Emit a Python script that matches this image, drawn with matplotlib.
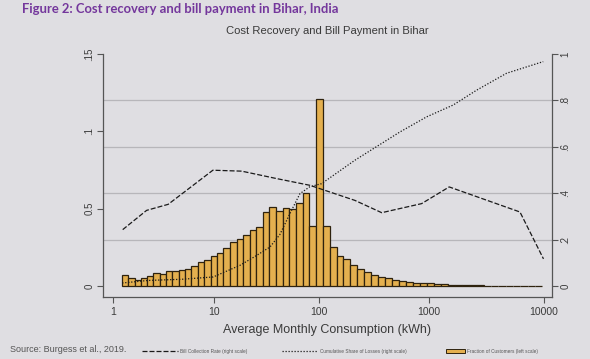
import numpy as np
import matplotlib
matplotlib.use("Agg")
import matplotlib.pyplot as plt
from matplotlib.ticker import FixedLocator
from matplotlib.lines import Line2D
from matplotlib.patches import Patch

# histogram: fraction of customers per log-bin (left scale)
bin_start = 1.235        # kWh, left edge of first bin
bin_log_width = 0.0628   # width of each bin in log10 units
fraction = [0.0070, 0.0051, 0.0040, 0.0051, 0.0066, 0.0083, 0.0076, 0.0096, 0.0096, 0.0102,
            0.0111, 0.0128, 0.0157, 0.0170, 0.0191, 0.0213, 0.0248, 0.0286, 0.0306, 0.0332,
            0.0363, 0.0379, 0.0476, 0.0513, 0.0487, 0.0504, 0.0496, 0.0539, 0.0599, 0.0386,
            0.1208, 0.0386, 0.0254, 0.0196, 0.0172, 0.0134, 0.0109, 0.0089, 0.0073, 0.0058,
            0.0049, 0.0038, 0.0031, 0.0025, 0.0021, 0.0018, 0.0018, 0.0013, 0.0011, 0.0009,
            0.0007, 0.0006, 0.0005, 0.0004, 0.0003, 0.0003, 0.0002, 0.0002, 0.0001, 0.0001,
            0.0001, 0.0001]

# bill collection rate (right scale)
bill_x = [1.25, 2.18, 3.58, 9.85, 18.7, 40.2, 82.6, 215, 377, 860, 1510, 6230, 9900]
bill_y = [0.243, 0.326, 0.352, 0.499, 0.495, 0.463, 0.434, 0.369, 0.316, 0.355, 0.427, 0.319, 0.117]

# cumulative share of losses (right scale)
loss_x = [1.235, 2.26, 4.86, 9.92, 17.98, 25.0, 34.8, 43.2, 53.7, 66.7, 82.6, 106, 215,
          551, 954, 1639, 2628, 4786, 9850]
loss_y = [0.013, 0.024, 0.029, 0.039, 0.089, 0.127, 0.168, 0.222, 0.312, 0.398, 0.428, 0.441,
          0.542, 0.664, 0.729, 0.780, 0.844, 0.917, 0.967]

x_ticks = [1, 10, 100, 1000, 10000]
x_ticklabels = ["1", "10", "100", "1000", "10000"]
left_ticks = [0, 0.05, 0.1, 0.15]
left_ticklabels = ["0", "0.5", ".1", ".15"]
right_ticks = [0, 0.2, 0.4, 0.6, 0.8, 1.0]
right_ticklabels = ["0", ".2", ".4", ".6", ".8", "1"]

bg = "#dfdee2"
bar_col = "#e4b04f"
edge_col = "#2e220e"
axis_col = "#555555"
txt_col = "#3a3a3a"

plt.rcParams["font.family"] = ["Liberation Sans", "DejaVu Sans"]

# the source figure's log axis is slightly stretched towards the right
K = 0.025
def fwd(x):
    t = np.log10(np.clip(x, 1e-6, None))
    return t + K * t * t
def inv(u):
    return 10 ** ((np.sqrt(np.clip(1 + 4 * K * u, 0, None)) - 1) / (2 * K))

fig = plt.figure(figsize=(5.9, 3.59), dpi=100, facecolor=bg)
ax = fig.add_axes([0.174, 0.1727, 0.762, 0.677])
ax.set_facecolor(bg)
ax.set_xscale("function", functions=(fwd, inv))

edges = bin_start * 10 ** (bin_log_width * np.arange(len(fraction) + 1))
bars = ax.bar(edges[:-1], fraction, width=np.diff(edges), align="edge",
              color=bar_col, edgecolor=edge_col, linewidth=0.9, zorder=2)

left_max = 0.15
ax.set_ylim(-0.0071, left_max)
ax.set_xlim(0.78, 11750)
ax.set_xticks(x_ticks)
ax.set_xticklabels(x_ticklabels)
ax.xaxis.set_minor_locator(FixedLocator([]))
ax.set_yticks(left_ticks)
ax.set_yticklabels(left_ticklabels, rotation=90, va="center")
# horizontal grid follows the right-hand scale, drawn behind the bars
ax.yaxis.set_minor_locator(FixedLocator(np.array(right_ticks) * left_max))
ax.grid(which="minor", axis="y", color="#b7b6ba", linewidth=0.9, zorder=0)
ax.set_axisbelow(True)
ax.tick_params(axis="y", which="minor", length=0)
ax.tick_params(axis="both", which="major", direction="out", length=4, width=0.8,
               color=axis_col, labelsize=7, labelcolor=txt_col, pad=2)
ax.tick_params(axis="x", labelsize=7.5, pad=3)
for s in ["left", "bottom"]:
    ax.spines[s].set_color(axis_col)
    ax.spines[s].set_linewidth(0.9)
ax.spines["top"].set_visible(False)
ax.spines["right"].set_visible(False)
ax.set_xlabel("Average Monthly Consumption (kWh)", fontsize=9, color=txt_col, labelpad=5)

ax2 = ax.twinx()
ax2.set_ylim(-0.0071 / left_max, 1.0)
l_bill, = ax2.plot(bill_x, bill_y, color="#1a1a1a", linewidth=0.9, dashes=(4, 1.6))
l_loss, = ax2.plot(loss_x, loss_y, color="#1a1a1a", linewidth=0.9, linestyle=(0, (1, 1.4)))
ax2.set_yticks(right_ticks)
ax2.set_yticklabels(right_ticklabels, rotation=90, va="center")
ax2.tick_params(axis="y", direction="out", length=4, width=0.8, color=axis_col,
                labelsize=7, labelcolor=txt_col, pad=2)
for s in ["left", "bottom", "top"]:
    ax2.spines[s].set_visible(False)
ax2.spines["right"].set_color(axis_col)
ax2.spines["right"].set_linewidth(0.9)

fig.text(22 / 590, 1 - 9 / 359, "Figure 2: Cost recovery and bill payment in Bihar, India",
         fontsize=9.4, fontweight="bold", color="#74379c", family=["Lato", "DejaVu Sans"],
         va="center", ha="left")
fig.text(0.174 + 0.762 / 2, 1 - 31 / 359, "Cost Recovery and Bill Payment in Bihar",
         fontsize=8.1, color=txt_col, ha="center", va="center")
fig.text(10 / 590, 1 - 350 / 359, "Source: Burgess et al., 2019.", fontsize=6.5,
         color="#555555", ha="left", va="center")

leg_y = 1 - 351 / 359
for handle, label, x0, hl in [
        (Line2D([], [], color="#1a1a1a", linewidth=0.9, dashes=(4, 1.6)),
         "Bill Collection Rate (right scale)", 140, 7.6),
        (Line2D([], [], color="#1a1a1a", linewidth=0.9, linestyle=(0, (1, 1.4))),
         "Cumulative Share of Losses (right scale)", 280, 7.6),
        (Patch(facecolor=bar_col, edgecolor=edge_col, linewidth=0.7),
         "Fraction of Customers (left scale)", 444, 4.0)]:
    fig.legend([handle], [label], loc="center left", bbox_to_anchor=(x0 / 590, leg_y),
               frameon=False, fontsize=3.4, handlelength=hl, handleheight=0.8,
               handletextpad=0.3, borderpad=0, labelcolor="#555555")

fig.savefig("out.png", dpi=100, facecolor=bg)
